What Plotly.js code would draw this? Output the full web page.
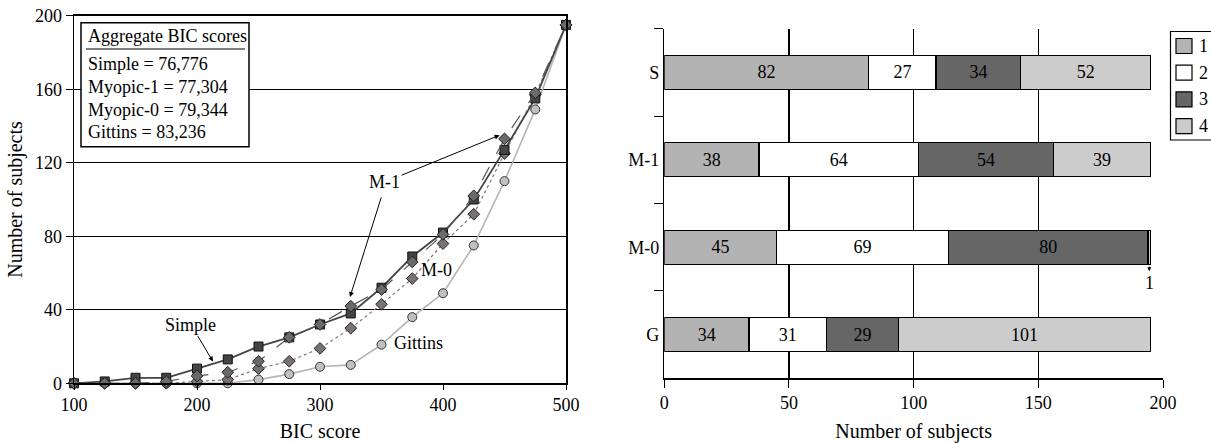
<!DOCTYPE html>
<html>
<head>
<meta charset="utf-8">
<script src="https://cdn.plot.ly/plotly-3.0.1.min.js"></script>
<style>html,body{margin:0;padding:0;background:#fff;}#chart{width:1211px;height:443px;}</style>
</head>
<body>
<div id="chart"></div>
<script>
// ---- Left chart data (cumulative number of subjects vs BIC score) ----
var bicScores = [100,125,150,175,200,225,250,275,300,325,350,375,400,425,450,475,500];
var simpleCounts  = [0,1,3,3,8,13,20,25,32,38,52,69,82,100,127,155,195];
var myopic1Counts = [0,0,0,1,4,6,12,25,32,42,51,66,81,102,133,158,195];
var myopic0Counts = [0,0,0,0,1,2,8,12,19,30,43,57,76,92,125,157,195];
var gittinsCounts = [0,0,0,0,0,0,2,5,9,10,21,36,49,75,110,149,195];

var boxTitle = "Aggregate BIC scores";
var modelNames = ["Simple","Myopic-1","Myopic-0","Gittins"];
var aggregateBIC = ["76,776","77,304","79,344","83,236"];

// ---- Right chart data (stacked bars) ----
var modelCategories = ["S","M-1","M-0","G"];
var seriesNames = ["1","2","3","4"];
var series1 = [82,38,45,34];
var series2 = [27,64,69,31];
var series3 = [34,54,80,29];
var series4 = [52,39,1,101];
var seriesColors = ["#b3b3b3","#ffffff","#666666","#cccccc"];

var W = 1211, H = 443;
function px(x){return x/W;}
function py(y){return 1 - y/H;}
var FONT = "Liberation Serif, Times New Roman, serif";

var traces = [];
traces.push({x:bicScores,y:gittinsCounts,type:'scatter',mode:'lines+markers',xaxis:'x',yaxis:'y',cliponaxis:false,
  line:{color:'#b5b5b5',width:1.6},marker:{symbol:'circle',size:9,color:'#c0c0c0',line:{color:'#333',width:1}},showlegend:false});
traces.push({x:bicScores,y:myopic0Counts,type:'scatter',mode:'lines+markers',xaxis:'x',yaxis:'y',cliponaxis:false,
  line:{color:'#8c7474',width:1.2,dash:'dot'},marker:{symbol:'diamond',size:9,color:'#7a7272',line:{color:'#222',width:1}},showlegend:false});
traces.push({x:bicScores,y:simpleCounts,type:'scatter',mode:'lines+markers',xaxis:'x',yaxis:'y',cliponaxis:false,
  line:{color:'#444444',width:1.8},marker:{symbol:'square',size:9,color:'#444444',line:{color:'#111',width:1}},showlegend:false});
traces.push({x:bicScores,y:myopic1Counts,type:'scatter',mode:'lines+markers',xaxis:'x',yaxis:'y',cliponaxis:false,
  line:{color:'#555555',width:1.2,dash:'longdash'},marker:{symbol:'diamond',size:9,color:'#6a6a6a',line:{color:'#222',width:1}},showlegend:false});

var allSeries = [series1,series2,series3,series4];
allSeries.forEach(function(vals,i){
  traces.push({type:'bar',orientation:'h',x:vals,y:modelCategories,xaxis:'x2',yaxis:'y2',name:seriesNames[i],
    marker:{color:seriesColors[i],line:{color:'#000',width:1.2}},
    text:vals.map(function(v){return v>=5?String(v):'';}),textposition:'inside',insidetextanchor:'middle',textangle:0,
    insidetextfont:{family:FONT,size:18,color:'#000'},constraintext:'none',hoverinfo:'x',showlegend:false});
});

var shapes = [], annotations = [];
// Aggregate BIC box
shapes.push({type:'rect',xref:'paper',yref:'paper',x0:px(81),x1:px(249),y0:py(146.7),y1:py(22.7),line:{color:'#000',width:1.5},fillcolor:'#fff'});
shapes.push({type:'line',xref:'paper',yref:'paper',x0:px(86),x1:px(245),y0:py(49),y1:py(49),line:{color:'#000',width:1.2}});
annotations.push({xref:'paper',yref:'paper',x:px(86),y:py(36),xanchor:'left',yanchor:'middle',text:boxTitle,showarrow:false,font:{family:FONT,size:18,color:'#000'}});
modelNames.forEach(function(n,i){
  annotations.push({xref:'paper',yref:'paper',x:px(86),y:py(64+i*22.8),xanchor:'left',yanchor:'middle',text:n+' = '+aggregateBIC[i],showarrow:false,font:{family:FONT,size:18,color:'#000'}});
});
// Curve labels
var lblFont = {family:FONT,size:18,color:'#000'};
annotations.push({xref:'x',yref:'y',x:213,y:11.8,ax:-22,ay:-37,text:'Simple',showarrow:true,arrowhead:2,arrowsize:1,arrowwidth:1,arrowcolor:'#000',font:lblFont});
annotations.push({xref:'x',yref:'y',x:446,y:135,ax:-115,ay:47,text:'M-1',showarrow:true,arrowhead:2,arrowsize:1,arrowwidth:1,arrowcolor:'#000',font:lblFont});
annotations.push({xref:'x',yref:'y',x:324.4,y:47,ax:32,ay:-102,text:' ',showarrow:true,arrowhead:2,arrowsize:1,arrowwidth:1,arrowcolor:'#000',font:{family:FONT,size:2}});
annotations.push({xref:'x',yref:'y',x:395,y:61.6,text:'M-0',showarrow:false,font:lblFont});
annotations.push({xref:'x',yref:'y',x:380,y:22,text:'Gittins',showarrow:false,font:lblFont});

// "1" label under M-0 bar
var m0Total = series1[2]+series2[2]+series3[2]+series4[2];
var m0Last = m0Total - series4[2]/2;
annotations.push({xref:'x2',yref:'y2',x:m0Last,y:modelCategories[2],yshift:-24,ax:0,ay:-7,text:' ',showarrow:true,arrowhead:2,arrowsize:0.8,arrowwidth:1,arrowcolor:'#000',font:{family:FONT,size:2}});
annotations.push({xref:'x2',yref:'y2',x:m0Last,y:modelCategories[2],yshift:-36,text:String(series4[2]),showarrow:false,font:{family:FONT,size:18,color:'#000'}});

// Custom legend
shapes.push({type:'rect',xref:'paper',yref:'paper',x0:px(1170.5),x1:px(1216),y0:py(140),y1:py(31.5),line:{color:'#000',width:1.2},fillcolor:'#fff'});
seriesNames.forEach(function(n,i){
  var yc = 46 + i*26.7;
  shapes.push({type:'rect',xref:'paper',yref:'paper',x0:px(1176),x1:px(1192),y0:py(yc+7.5),y1:py(yc-7.5),line:{color:'#000',width:1.2},fillcolor:seriesColors[i]});
  annotations.push({xref:'paper',yref:'paper',x:px(1197),y:py(yc),xanchor:'left',yanchor:'middle',text:n,showarrow:false,font:{family:FONT,size:18,color:'#000'}});
});

var tickFont = {family:FONT,size:18,color:'#000'};
var layout = {
  width:W,height:H,autosize:false,margin:{l:0,r:0,t:0,b:0},
  paper_bgcolor:'#fff',plot_bgcolor:'#fff',
  font:{family:FONT,color:'#000'},
  barmode:'stack',bargap:0.61,
  showlegend:false,
  xaxis:{domain:[px(74),px(566)],anchor:'y',range:[100,500],dtick:100,tick0:100,ticks:'outside',ticklen:5,tickcolor:'#000',
    showline:true,linecolor:'#000',linewidth:1.5,mirror:true,showgrid:false,zeroline:false,tickfont:tickFont,
    title:{text:'BIC score',font:{family:FONT,size:20,color:'#000'},standoff:9},automargin:false},
  yaxis:{domain:[py(383.3),py(15.7)],anchor:'x',range:[0,200],dtick:40,ticks:'outside',ticklen:7,tickcolor:'#000',
    showline:true,linecolor:'#000',linewidth:1.5,mirror:true,showgrid:true,gridcolor:'#000',gridwidth:1.2,zeroline:false,tickfont:tickFont,
    title:{text:'Number of subjects',font:{family:FONT,size:20,color:'#000'},standoff:7},automargin:false},
  xaxis2:{domain:[px(664.3),px(1163)],anchor:'y2',range:[0,200],dtick:50,ticks:'outside',ticklen:8,tickcolor:'#000',
    showline:true,linecolor:'#000',linewidth:1.5,showgrid:true,gridcolor:'#000',gridwidth:1.2,zeroline:false,tickfont:tickFont,
    title:{text:'Number of subjects',font:{family:FONT,size:20,color:'#000'},standoff:11},automargin:false},
  yaxis2:{domain:[py(378.3),py(28.7)],anchor:'x2',type:'category',categoryorder:'array',categoryarray:modelCategories,range:[3.5,-0.5],
    ticks:'outside',tickson:'boundaries',ticklen:9,tickcolor:'#000',showline:true,linecolor:'#000',linewidth:1.5,showgrid:false,zeroline:false,
    tickfont:{family:FONT,size:18,color:'#000'},automargin:false},
  shapes:shapes,annotations:annotations
};
Plotly.newPlot('chart',traces,layout,{staticPlot:true,displayModeBar:false});
</script>
</body>
</html>
